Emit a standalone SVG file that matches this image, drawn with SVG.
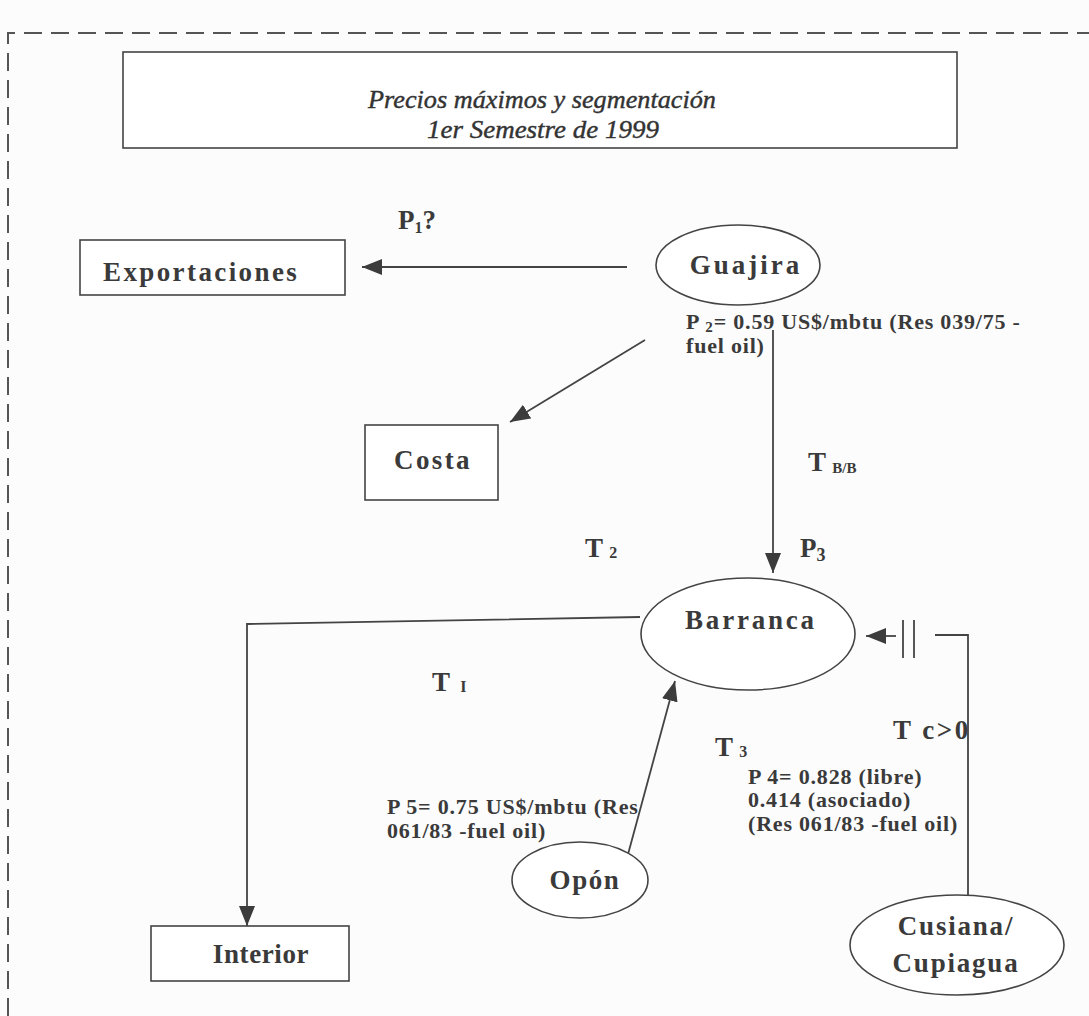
<svg xmlns="http://www.w3.org/2000/svg" width="1089" height="1016" viewBox="0 0 1089 1016">
  <defs>
    <marker id="arrow" viewBox="0 0 20 16" refX="20" refY="8" markerWidth="20" markerHeight="16" markerUnits="userSpaceOnUse" orient="auto">
      <path d="M0,0 L20,8 L0,16 Z" fill="#3c3c3c"/>
    </marker>
    <style>
      .frame { fill: none; stroke: #555; stroke-width: 2; stroke-dasharray: 18 9; }
      .box { fill: #fff; stroke: #444; stroke-width: 1.6; }
      .oval { fill: #fff; stroke: #444; stroke-width: 1.6; }
      .link { fill: none; stroke: #444; stroke-width: 1.8; }
      .arrowed { marker-end: url(#arrow); }
      .title { font-family: "Liberation Serif", serif; font-style: italic; font-size: 25px; fill: #333; stroke: #333; stroke-width: 0.4; text-anchor: middle; }
      .node { font-family: "Liberation Serif", serif; font-weight: bold; font-size: 27px; fill: #3a3a3a; letter-spacing: 2.4px; }
      .mid { text-anchor: middle; }
      .lbl { font-family: "Liberation Serif", serif; font-weight: bold; font-size: 27px; fill: #3a3a3a; }
      .note { font-family: "Liberation Serif", serif; font-weight: bold; font-size: 22px; fill: #3a3a3a; letter-spacing: 0.8px; }
      .sub { font-size: 16px; }
    </style>
  </defs>

  <rect width="1089" height="1016" fill="#fcfcfc"/>

  <!-- dashed outer frame (top and left edges) -->
  <path class="frame" d="M8,1016 L8,33 L1089,33"/>

  <!-- title banner -->
  <g id="title">
    <rect class="box" x="123" y="52" width="834" height="96"/>
    <text class="title" x="542" y="108" textLength="348" lengthAdjust="spacingAndGlyphs">Precios máximos y segmentación</text>
    <text class="title" x="543" y="138" textLength="232" lengthAdjust="spacingAndGlyphs">1er Semestre de 1999</text>
  </g>

  <!-- connectors -->
  <g id="connectors">
    <line class="link arrowed" x1="627" y1="267" x2="362" y2="267"/>
    <line class="link arrowed" x1="645" y1="340" x2="510" y2="422"/>
    <line class="link arrowed" x1="773" y1="330" x2="773" y2="573"/>
    <polyline class="link arrowed" points="640,617 247,624 247,926"/>
    <line class="link arrowed" x1="627" y1="858" x2="675" y2="681"/>
    <!-- return from Cusiana/Cupiagua, interrupted by a double bar -->
    <polyline class="link" points="968,896 968,635 935,635"/>
    <line class="link" x1="903" y1="620" x2="903" y2="658"/>
    <line class="link" x1="914" y1="620" x2="914" y2="658"/>
    <line class="link arrowed" x1="896" y1="636" x2="866" y2="636"/>
  </g>

  <!-- nodes -->
  <g id="guajira">
    <ellipse class="oval" cx="738" cy="265" rx="82" ry="40"/>
    <text class="node mid" x="746" y="274" style="letter-spacing:3px">Guajira</text>
  </g>
  <g id="exportaciones">
    <rect class="box" x="80" y="240" width="265" height="55"/>
    <text class="node" x="103" y="281">Exportaciones</text>
  </g>
  <g id="costa">
    <rect class="box" x="365" y="425" width="133" height="75"/>
    <text class="node" x="394" y="469">Costa</text>
  </g>
  <g id="barranca">
    <ellipse class="oval" cx="748" cy="634" rx="107" ry="56"/>
    <text class="node mid" x="751" y="629" style="letter-spacing:2.8px">Barranca</text>
  </g>
  <g id="interior">
    <rect class="box" x="151" y="926" width="198" height="55"/>
    <text class="node mid" x="261" y="963" style="letter-spacing:0.6px">Interior</text>
  </g>
  <g id="opon">
    <ellipse class="oval" cx="580" cy="880" rx="68" ry="38"/>
    <text class="node mid" x="585" y="889" style="letter-spacing:1.6px">Opón</text>
  </g>
  <g id="cusiana">
    <ellipse class="oval" cx="957" cy="945" rx="107" ry="50"/>
    <text class="node mid" x="956" y="935" style="letter-spacing:1.8px">Cusiana/</text>
    <text class="node mid" x="956" y="972" style="letter-spacing:1.8px">Cupiagua</text>
  </g>

  <!-- price and tariff labels -->
  <g id="labels">
    <text class="lbl" x="398" y="229">P<tspan class="sub" dy="4">1</tspan><tspan dy="-4">?</tspan></text>
    <text class="note" x="686" y="329">P <tspan font-size="15" dy="3">2</tspan><tspan dy="-3">= 0.59 US$/mbtu (Res 039/75 -</tspan></text>
    <text class="note" x="686" y="353">fuel oil)</text>
    <text class="lbl" x="808" y="471">T <tspan font-size="15" dy="2">B/B</tspan></text>
    <text class="lbl" x="585" y="557">T <tspan class="sub" dy="1">2</tspan></text>
    <text class="lbl" x="800" y="557">P<tspan font-size="18" dy="4">3</tspan></text>
    <text class="lbl" x="432" y="691">T <tspan class="sub" dy="1" dx="4">I</tspan></text>
    <text class="lbl" x="893" y="739" style="letter-spacing:2.5px">T c&gt;0</text>
    <text class="lbl" x="715" y="756">T <tspan class="sub" dy="1">3</tspan></text>
    <text class="note" x="748" y="784">P 4= 0.828 (libre)</text>
    <text class="note" x="748" y="807">0.414 (asociado)</text>
    <text class="note" x="748" y="831">(Res 061/83 -fuel oil)</text>
    <text class="note" x="387" y="814">P 5= 0.75 US$/mbtu (Res</text>
    <text class="note" x="387" y="838">061/83 -fuel oil)</text>
  </g>
</svg>
